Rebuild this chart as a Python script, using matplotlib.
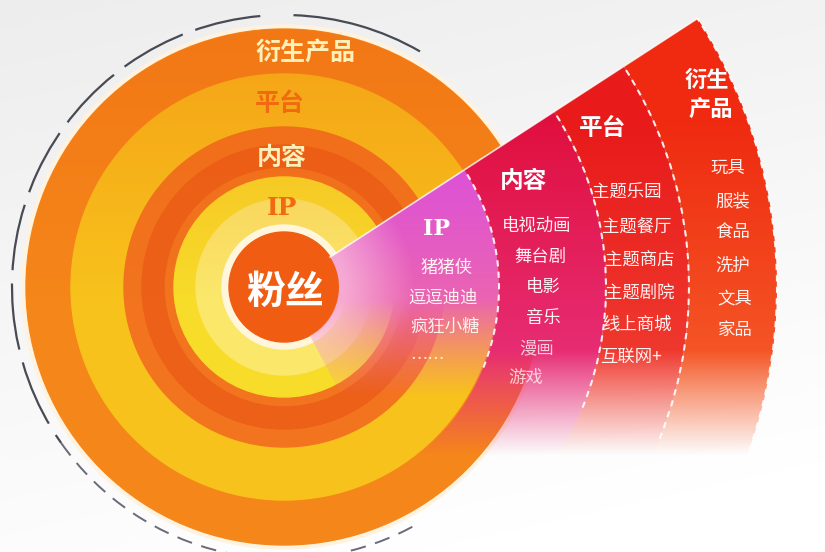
import numpy as np
import matplotlib
matplotlib.use("Agg")
import matplotlib.pyplot as plt
from matplotlib.patches import Wedge, Circle, Arc
from matplotlib.colors import to_rgb

plt.rcParams['font.family'] = ['Noto Sans CJK SC', 'DejaVu Sans']

# ---------------- data ----------------
layers = ['粉丝', 'IP', '内容', '平台', '衍生产品']
ip_items = ['猪猪侠', '逗逗迪迪', '疯狂小糖', '……']
content_items = ['电视动画', '舞台剧', '电影', '音乐', '漫画', '游戏']
platform_items = ['主题乐园', '主题餐厅', '主题商店', '主题剧院', '线上商城', '互联网+']
product_items = ['玩具', '服装', '食品', '洗护', '文具', '家品']

# ---------------- layout ----------------
W, H = 825, 552
fig = plt.figure(figsize=(W / 100, H / 100), dpi=100)
fig.patch.set_facecolor('#f1f0ef')
ax = fig.add_axes([0, 0, 1, 1])
ax.set_xlim(0, W)
ax.set_ylim(0, H)
ax.set_aspect('equal')
ax.axis('off')

def Y(py):
    return H - py

cx, cy = 284, Y(287)

# background soft gradient
yy, xx = np.mgrid[0:H, 0:W]
bg = np.ones((H, W, 3))
shade = 0.93 + 0.06 * (yy / H) + 0.02 * (xx / W)
bg *= np.clip(shade, 0, 1)[..., None]
ax.imshow(bg, extent=(0, W, 0, H), origin='upper', zorder=0)

# circle rings (outer -> inner)
ring_cols = {
    '衍生产品': '#f5861a',
    '平台': '#f8c21c',
    '内容': '#f2741e',
    'IP': '#f8dc2a',
}
ax.add_patch(Circle((cx, cy), 262, color='#fff3df', zorder=1))
ax.add_patch(Circle((cx, cy), 258, color=ring_cols['衍生产品'], zorder=1))
ax.add_patch(Circle((cx, cy), 213, color=ring_cols['平台'], zorder=1))
ax.add_patch(Circle((cx, cy), 160, color=ring_cols['内容'], zorder=1))
ax.add_patch(Wedge((cx, cy), 142, 0, 360, width=22, color='#ec6018', zorder=1))
ax.add_patch(Circle((cx, cy), 110, color=ring_cols['IP'], zorder=1))
ax.add_patch(Circle((cx, cy), 88, color='#fbe86a', zorder=1))

# darker upper shading on rings (vertical gradient overlay)
shadow = np.zeros((H, W, 4))
shadow[..., 0] = 0.93
shadow[..., 1] = 0.35
shadow[..., 2] = 0.05
shadow[..., 3] = np.clip((300 - yy) / 300, 0, 1) * 0.35
im = ax.imshow(shadow, extent=(0, W, 0, H), origin='upper', zorder=1.5)
clipc = Circle((cx, cy), 258, transform=ax.transData)
im.set_clip_path(clipc)
ax.add_patch(Circle((cx, cy), 62, color='#fff6dc', zorder=1.6))
ax.add_patch(Circle((cx, cy), 55, color='#f05c12', zorder=1.6))

# outer dashed arc
ax.add_patch(Arc((cx, cy), 2 * 272, 2 * 272, theta1=95, theta2=215,
                 color='#4a4a55', lw=1.6, linestyle=(0, (30, 6)), zorder=2))
ax.add_patch(Arc((cx, cy), 2 * 272, 2 * 272, theta1=60, theta2=88,
                 color='#4a4a55', lw=1.6, zorder=2))
ax.add_patch(Arc((cx, cy), 2 * 272, 2 * 272, theta1=215, theta2=300,
                 color='#6a6a78', lw=1.4, linestyle=(0, (8, 5)), zorder=2))

# ---------------- fan wedge ----------------
t_lo, t_hi = -62, 33
fan = [
    (55, 215, ('#d84ae6', '#f2709a')),
    (215, 322, ('#e0103e', '#e8307a')),
    (322, 405, ('#e81a1a', '#f03c30')),
    (405, 493, ('#ef2a10', '#f55a28')),
]

def fan_image(c_top, c_bot, fade0, fade1, pale_center=False):
    ct, cb = np.array(to_rgb(c_top)), np.array(to_rgb(c_bot))
    t = np.clip((yy - 120) / 260, 0, 1)[..., None]
    rgb = ct * (1 - t) + cb * t
    if pale_center:
        d = np.hypot(xx - cx, yy - (H - cy))
        p = np.clip((130 - d) / 70, 0, 1)[..., None] * 0.6
        rgb = rgb * (1 - p) + np.array([1.0, 0.85, 0.9]) * p
    a = np.clip((fade1 - yy) / (fade1 - fade0), 0, 1)
    return np.dstack([rgb, a])

for i, (r0, r1, (ctop, cbot)) in enumerate(fan):
    w = Wedge((cx, cy), r1, t_lo, t_hi, width=r1 - r0,
              transform=ax.transData)
    f0, f1 = (300, 395) if i == 0 else (350, 455)
    img = fan_image(ctop, cbot, f0, f1, pale_center=(i == 0))
    imw = ax.imshow(img, extent=(0, W, 0, H), origin='upper', zorder=3)
    imw.set_clip_path(w)

# dashed separators in the fan
for r in [215, 322, 405, 493]:
    ax.add_patch(Arc((cx, cy), 2 * r, 2 * r, theta1=-22, theta2=t_hi,
                     color='white', lw=1.5, linestyle=(0, (3, 2.5)),
                     alpha=0.9, zorder=4))
# upper straight edge of the fan
th = np.deg2rad(t_hi)
ax.plot([cx + 55 * np.cos(th), cx + 493 * np.cos(th)],
        [cy + 55 * np.sin(th), cy + 493 * np.sin(th)],
        color='white', lw=1.2, alpha=0.8, zorder=4)

# ---------------- texts ----------------
cream = '#fdf0b8'
ax.text(305, Y(53), layers[4], color=cream, fontsize=18, fontweight='bold',
        ha='center', va='center', zorder=5)
ax.text(280, Y(104), layers[3], color='#f26a10', fontsize=18, fontweight='bold',
        ha='center', va='center', zorder=5)
ax.text(282, Y(158), layers[2], color=cream, fontsize=18, fontweight='bold',
        ha='center', va='center', zorder=5)
ax.text(282, Y(208), layers[1], color='#f26a10', fontsize=18, fontweight='bold',
        family='DejaVu Serif', ha='center', va='center', zorder=5)
ax.text(285, Y(292), layers[0], color='white', fontsize=28, fontweight='bold',
        ha='center', va='center', zorder=5)

hdr = dict(color='white', fontweight='bold', ha='center', va='center', zorder=5)
itm = dict(color='#fff2f2', fontsize=12.5, ha='center', va='center', zorder=5)

ax.text(437, Y(229), layers[1], fontsize=16, family='DejaVu Serif', **hdr)
ip_pos = [(447, 268), (443, 298), (445, 327), (428, 360)]
for s, (x, y) in zip(ip_items, ip_pos):
    ax.text(x, Y(y), s, **itm)

ax.text(523, Y(181), layers[2], fontsize=17, **hdr)
c_pos = [(537, 226), (540, 257), (543, 287), (543, 318), (537, 348), (526, 378)]
for k, (s, (x, y)) in enumerate(zip(content_items, c_pos)):
    ax.text(x, Y(y), s, alpha=1.0 if k < 4 else 0.8, **itm)

ax.text(603, Y(128), layers[3], fontsize=17, **hdr)
p_pos = [(627, 193), (637, 227), (640, 261), (640, 293), (637, 325), (631, 357)]
for s, (x, y) in zip(platform_items, p_pos):
    ax.text(x, Y(y), s, **itm)

ax.text(707, Y(80), layers[4][:2], fontsize=16, **hdr)
ax.text(711, Y(110), layers[4][2:], fontsize=16, **hdr)
d_pos = [(728, 168), (733, 201), (733, 233), (733, 266), (735, 298), (735, 330)]
for s, (x, y) in zip(product_items, d_pos):
    ax.text(x, Y(y), s, **itm)

fig.savefig('out.png', dpi=100, facecolor=fig.get_facecolor())
